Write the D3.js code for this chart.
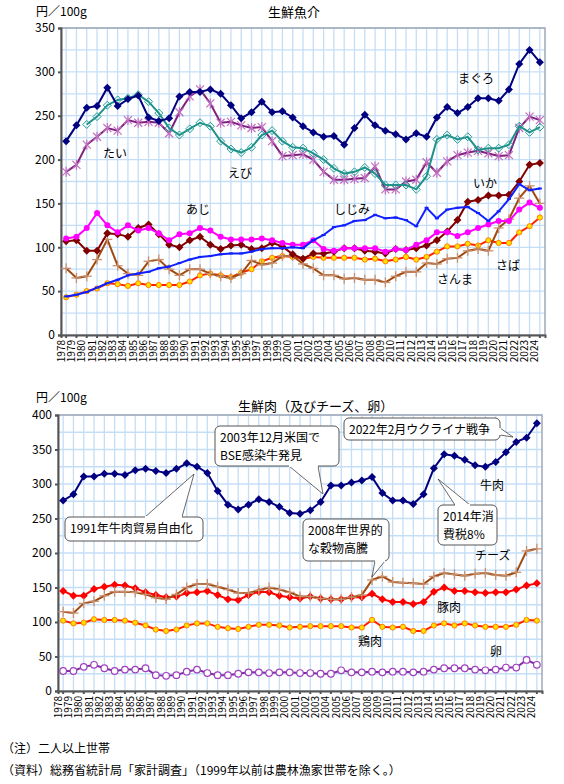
<!DOCTYPE html>
<html><head><meta charset="utf-8">
<script src="https://cdn.jsdelivr.net/npm/d3@7"></script>
<style>body{margin:0;background:#fff;font-family:"Noto Sans CJK JP",sans-serif;}</style>
</head><body><svg id="c" width="564" height="784"></svg>
<script>
const years = d3.range(1978, 2025);
const maguro = [221,239,259,261,282,261,269,273,248,244,247,272,277,277,280,275,262,247,254,266,254,255,248,238,231,226,227,217,236,251,239,233,229,223,230,226,248,260,253,260,270,270,267,280,309,325,311];
const tai = [null,null,240,249,262,268,270,274,266,253,236,228,235,242,238,221,212,208,214,228,233,221,214,213,207,200,190,184,186,191,184,171,171,171,166,181,223,228,223,226,211,213,213,217,238,231,237];
const ebi = [186,194,217,226,236,233,245,242,243,242,230,254,272,280,264,242,243,239,236,237,221,204,205,206,200,186,177,177,178,179,192,166,166,175,177,197,185,198,205,208,210,207,204,205,236,249,245];
const shijimi = [44,46,49,54,59,63,68,70,72,76,78,82,86,89,90,92,93,93,95,98,99,99,100,99,108,114,123,125,130,131,137,133,134,131,124,145,133,143,145,146,139,130,141,155,172,165,167];
const aji = [110,112,122,139,125,117,125,119,122,116,108,115,116,122,119,112,109,109,109,110,108,105,103,103,108,98,96,99,99,99,99,95,98,97,103,108,117,117,113,117,122,126,130,130,143,151,145];
const ika = [107,108,96,96,116,115,112,122,126,115,103,100,108,112,103,98,102,103,98,99,105,101,92,87,93,93,95,99,99,96,95,93,98,97,99,102,108,118,131,152,154,159,159,160,175,194,196];
const sanma = [76,65,67,86,109,79,70,68,84,86,75,68,75,75,70,67,65,70,85,80,82,90,90,81,76,68,68,64,65,63,63,60,67,72,72,82,81,87,88,96,98,96,122,132,156,170,150];
const saba = [43,46,50,53,59,58,56,59,57,57,57,57,61,68,70,68,66,71,75,84,88,90,89,87,89,88,88,88,88,86,87,84,86,89,86,89,95,101,101,104,102,108,105,105,117,124,134];

const beef = [276,285,311,311,315,315,313,320,322,319,316,322,330,325,316,290,270,263,270,278,274,267,258,257,262,274,298,298,302,305,310,287,276,276,271,285,323,343,341,335,327,325,332,346,361,367,388];
const cheese = [115,113,127,130,138,144,144,143,140,135,133,140,150,155,155,151,147,142,142,146,150,147,143,137,137,134,133,133,136,139,161,166,158,157,156,155,166,171,169,167,170,171,168,167,172,203,206];
const pork = [145,138,138,148,151,154,153,149,143,139,136,137,142,143,145,139,133,132,139,144,143,138,136,134,137,134,133,133,136,136,141,133,129,129,126,129,144,150,145,145,143,142,143,143,147,153,156];
const chicken = [102,98,99,104,103,103,102,99,95,89,87,89,95,98,98,93,91,90,93,96,96,95,92,93,94,94,94,94,92,92,103,93,92,93,87,87,95,98,95,98,95,93,93,93,96,103,102];
const egg = [29,29,35,38,33,29,31,31,33,23,22,23,28,31,26,23,23,25,27,27,26,27,27,26,26,25,25,30,27,27,28,27,28,28,27,28,31,33,33,33,31,30,31,34,34,45,38];

const svg = d3.select("#c");
const font = '"Noto Sans CJK JP", sans-serif';

function panel(o){
  const x = d3.scaleBand().domain(years).range([o.x0,o.x1]);
  const y = d3.scaleLinear().domain([0,o.max]).range([o.y0,o.y1]);
  const g = svg.append("g");
  years.forEach(yr=>{
    g.append("line").attr("x1",x(yr)+x.bandwidth()/2).attr("x2",x(yr)+x.bandwidth()/2)
     .attr("y1",o.y1).attr("y2",o.y0).attr("stroke","#c4def8").attr("stroke-width",1.3);
  });
  d3.range(25,o.max+1,25).forEach(v=>{
    g.append("line").attr("x1",o.x0).attr("x2",o.x1).attr("y1",y(v)).attr("y2",y(v))
     .attr("stroke","#c4def8").attr("stroke-width",1.3);
  });
  g.append("rect").attr("x",o.x0).attr("y",o.y1).attr("width",o.x1-o.x0).attr("height",o.y0-o.y1)
   .attr("fill","none").attr("stroke","#a0a8b8").attr("stroke-width",1.5);
  const ya = g.append("g").attr("transform",`translate(${o.x0},0)`)
    .call(d3.axisLeft(y).tickValues(d3.range(0,o.max+1,50)).tickSize(3));
  ya.selectAll("text").attr("font-family",font).attr("font-size",12).attr("fill","#000");
  ya.selectAll("line,path").attr("stroke","#555").attr("stroke-width",2);
  const xa = g.append("g").attr("transform",`translate(0,${o.y0})`)
    .call(d3.axisBottom(x).tickSize(3));
  xa.selectAll("path,line").attr("stroke","#555").attr("stroke-width",2);
  xa.selectAll("text").attr("font-family",font).attr("font-size",10).attr("fill","#000")
    .attr("transform","rotate(-90)").attr("text-anchor","end").attr("x",-5).attr("y",-5).attr("dy","0.35em").attr("dx",0);
  return {x:d=>x(d)+x.bandwidth()/2,y,g};
}

function series(p,data,color,marker,mcolor,sw){
  const pts = years.map((yr,i)=>[yr,data[i]]).filter(d=>d[1]!=null);
  p.g.append("path").datum(pts).attr("fill","none").attr("stroke",color).attr("stroke-width",sw||2)
    .attr("d",d3.line().x(d=>p.x(d[0])).y(d=>p.y(d[1])));
  const mg = p.g.append("g");
  pts.forEach(d=>{
    const cx=p.x(d[0]), cy=p.y(d[1]);
    if(marker==="diamond") mg.append("path").attr("d",`M${cx},${cy-4}L${cx+4},${cy}L${cx},${cy+4}L${cx-4},${cy}Z`).attr("fill",mcolor||color);
    else if(marker==="odiamond") mg.append("path").attr("d",`M${cx},${cy-4}L${cx+4},${cy}L${cx},${cy+4}L${cx-4},${cy}Z`).attr("fill","none").attr("stroke",mcolor).attr("stroke-width",1);
    else if(marker==="star"){ [[-4,-4,4,4],[-4,4,4,-4],[0,-5,0,5]].forEach(l=>mg.append("line").attr("x1",cx+l[0]).attr("y1",cy+l[1]).attr("x2",cx+l[2]).attr("y2",cy+l[3]).attr("stroke",mcolor).attr("stroke-width",1.2)); }
    else if(marker==="plus"){ [[-5,0,5,0],[0,-5,0,5]].forEach(l=>mg.append("line").attr("x1",cx+l[0]).attr("y1",cy+l[1]).attr("x2",cx+l[2]).attr("y2",cy+l[3]).attr("stroke",mcolor).attr("stroke-width",1.3)); }
    else if(marker==="dot") mg.append("circle").attr("cx",cx).attr("cy",cy).attr("r",3).attr("fill",mcolor||color);
    else if(marker==="ydot") mg.append("circle").attr("cx",cx).attr("cy",cy).attr("r",2.6).attr("fill","#ffe000").attr("stroke","#ff8000").attr("stroke-width",1);
    else if(marker==="ocircle") mg.append("circle").attr("cx",cx).attr("cy",cy).attr("r",3.3).attr("fill","#fff").attr("stroke",mcolor).attr("stroke-width",1.2);
    else if(marker==="tick") mg.append("line").attr("x1",cx-2).attr("x2",cx+2).attr("y1",cy).attr("y2",cy).attr("stroke",color).attr("stroke-width",2);
  });
}
function label(t,x,y,s){svg.append("text").attr("x",x).attr("y",y).attr("font-family",font).attr("font-size",s||12).attr("fill","#000").text(t);}

const p1 = panel({x0:61,x1:545,y0:335,y1:28,max:350});
series(p1,saba,"#ff2000","ydot");
series(p1,sanma,"#a04a10","plus","#c89070");
series(p1,ika,"#800000","diamond");
series(p1,aji,"#ff00ff","dot");
series(p1,shijimi,"#1020ff","tick");
series(p1,ebi,"#80207f","star","#c070c0");
series(p1,tai,"#20908a","odiamond","#20a090");
series(p1,maguro,"#000080","diamond");
label("円／100g",36,16,12);
label("生鮮魚介",268,17,13);
label("まぐろ",458,83); label("たい",103,158); label("えび",228,178); label("あじ",186,214);
label("しじみ",334,214); label("いか",473,188); label("さんま",437,284); label("さば",496,270);

const p2 = panel({x0:58,x1:542,y0:691,y1:415,max:400});
series(p2,egg,"#8030a0","ocircle","#a040c0");
series(p2,chicken,"#ff2000","ydot");
series(p2,pork,"#ff0000","diamond");
series(p2,cheese,"#a04a10","plus","#c89070");
series(p2,beef,"#000080","diamond");
label("円／100g",36,402,12);
label("生鮮肉（及びチーズ、卵）",238,411,13);
label("牛肉",480,490); label("チーズ",475,560); label("豚肉",437,612); label("鶏肉",358,646); label("卵",490,656);

function callout(lines,bx,by,bw,bh,tip,b1,b2){
  const g=svg.append("g");
  g.append("path").attr("d",`M${b1[0]},${b1[1]}L${tip[0]},${tip[1]}L${b2[0]},${b2[1]}`).attr("fill","#fff").attr("stroke","#444").attr("stroke-width",0.8);
  g.append("rect").attr("x",bx).attr("y",by).attr("width",bw).attr("height",bh).attr("rx",5)
   .attr("fill","#fff").attr("stroke","#555").attr("stroke-width",1);
  g.append("path").attr("d",`M${b1[0]},${b1[1]}L${b2[0]},${b2[1]}`).attr("stroke","#fff").attr("stroke-width",2);
  lines.forEach((t,i)=>g.append("text").attr("x",bx+5).attr("y",by+16+i*18).attr("font-family",font).attr("font-size",12).text(t));
}
callout(["1991年牛肉貿易自由化"],65,517,138,24,[194,474],[145,517],[182,517]);
callout(["2003年12月米国で","BSE感染牛発見"],215,426,124,40,[323,494],[289,466],[318,466]);
callout(["2022年2月ウクライナ戦争"],344,418,156,22,[513,437],[500,428],[500,435]);
callout(["2008年世界的","な穀物高騰"],303,519,86,42,[372,577],[385,561],[375,561]);
callout(["2014年消","費税8%"],438,505,59,40,[438,479],[455,505],[470,505]);

label("（注）二人以上世帯",2,753,12);
label("（資料）総務省統計局「家計調査」（1999年以前は農林漁家世帯を除く。）",2,775,12);
</script></body></html>
